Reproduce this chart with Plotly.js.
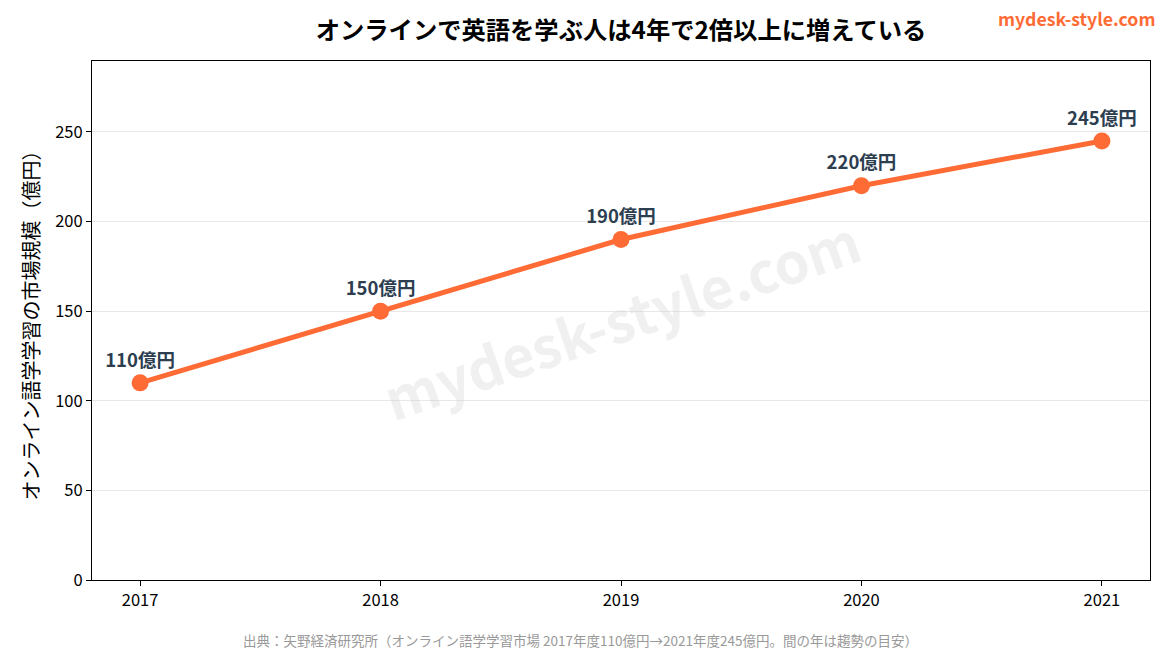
<!DOCTYPE html>
<html>
<head>
<meta charset="utf-8">
<script src="https://cdn.plot.ly/plotly-3.0.1.min.js"></script>
<style>html,body{margin:0;padding:0;background:#fff;}#chart{width:1170px;height:650px;}</style>
</head>
<body>
<div id="chart"></div>
<script>
const years = [2017, 2018, 2019, 2020, 2021];
const marketSize = [110, 150, 190, 220, 245];
const valueLabels = ["110億円", "150億円", "190億円", "220億円", "245億円"];
const yTicks = [0, 50, 100, 150, 200, 250];

const FONT = "'Noto Sans CJK JP', 'Noto Sans', sans-serif";
const ORANGE = "#FF6B35";

const trace = {
  x: years,
  y: marketSize,
  type: "scatter",
  mode: "lines+markers+text",
  line: {color: ORANGE, width: 5},
  marker: {color: ORANGE, size: 17},
  text: valueLabels,
  textposition: "top center",
  textfont: {family: FONT, size: 18.5, color: "#2c3e50", weight: "bold"},
  cliponaxis: false,
  hoverinfo: "skip"
};

const layout = {
  width: 1170,
  height: 650,
  margin: {l: 92, r: 20, t: 61, b: 70},
  paper_bgcolor: "#ffffff",
  plot_bgcolor: "#ffffff",
  font: {family: FONT, color: "#000"},
  showlegend: false,
  title: {
    text: "<b>オンラインで英語を学ぶ人は4年で2倍以上に増えている</b>",
    font: {family: FONT, size: 24.3, color: "#000"},
    x: 0.5, xref: "paper", xanchor: "center", y: 0.953, yanchor: "middle"
  },
  xaxis: {
    range: [2016.8, 2021.2],
    tickvals: years,
    ticktext: years.map(String),
    showgrid: false,
    zeroline: false,
    showline: true, linecolor: "#000", linewidth: 1, mirror: true,
    ticks: "outside", ticklen: 5, tickcolor: "#000",
    tickfont: {family: FONT, size: 16.5, color: "#000"}
  },
  yaxis: {
    range: [0, 289.6],
    tickvals: yTicks,
    showgrid: true, gridcolor: "#e8e8e8", gridwidth: 1,
    zeroline: false,
    showline: true, linecolor: "#000", linewidth: 1, mirror: true,
    ticks: "outside", ticklen: 5, tickcolor: "#000",
    tickfont: {family: FONT, size: 16.5, color: "#000"},
    title: {text: "オンライン語学学習の市場規模（億円）", font: {family: FONT, size: 20, color: "#000"}, standoff: 10}
  },
  annotations: [
    {
      text: "<b>mydesk-style.com</b>",
      xref: "paper", yref: "paper", x: 0.5, y: 0.505,
      showarrow: false, textangle: -19,
      font: {family: FONT, size: 56, color: "rgba(200,200,200,0.28)"}
    },
    {
      text: "<b>mydesk-style.com</b>",
      xref: "paper", yref: "paper", x: 1.0076, y: 1.082, xanchor: "right", yanchor: "middle",
      showarrow: false,
      font: {family: FONT, size: 17.7, color: ORANGE}
    },
    {
      text: "出典：矢野経済研究所（オンライン語学学習市場 2017年度110億円→2021年度245億円。間の年は趨勢の目安）",
      xref: "paper", yref: "paper", x: 0.462, y: -0.115, xanchor: "center", yanchor: "middle",
      showarrow: false,
      font: {family: FONT, size: 13.5, color: "#999"}
    }
  ]
};

Plotly.newPlot("chart", [trace], layout, {displayModeBar: false, staticPlot: true});
</script>
</body>
</html>
